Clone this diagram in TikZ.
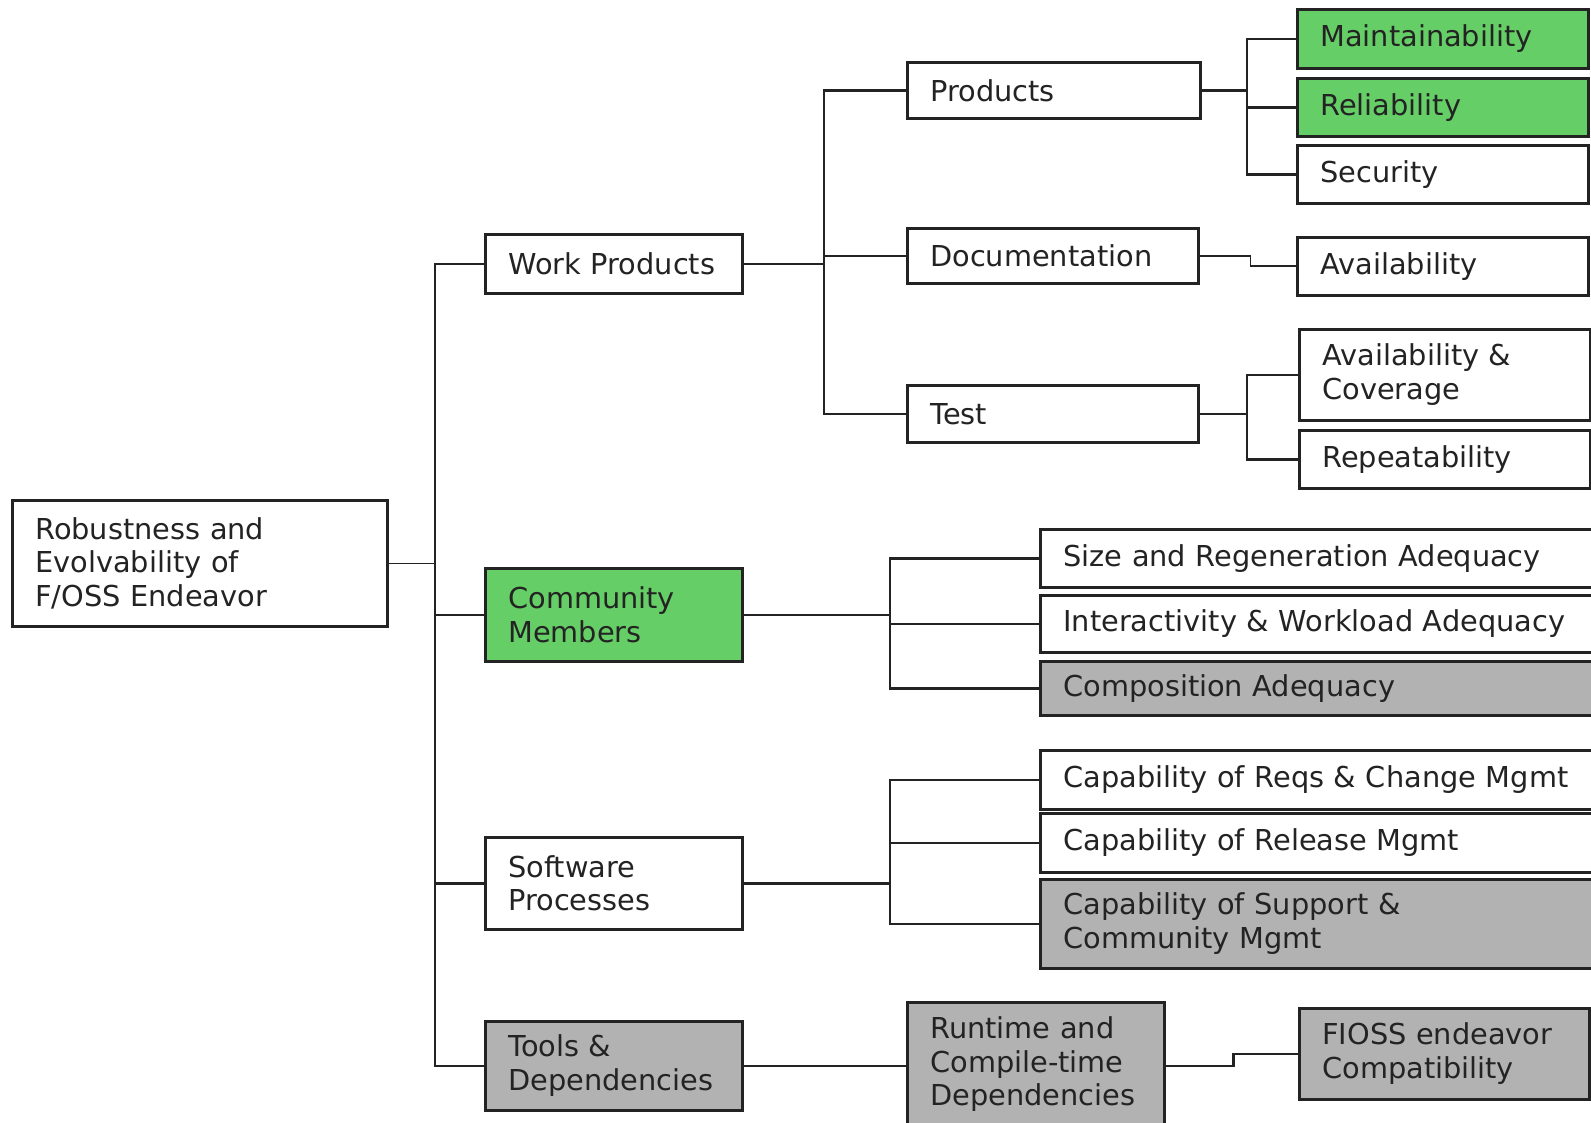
\documentclass[tikz,border=0pt]{standalone}
\usepackage{fontspec}
\setmainfont{DejaVu Sans}
\definecolor{boxgreen}{RGB}{102,206,102}
\definecolor{boxgray}{RGB}{178,178,178}
\definecolor{ink}{RGB}{35,35,35}
\begin{document}
\begin{tikzpicture}[x=0.5pt,y=-0.5pt,
  bx/.style={draw=ink, line width=1.3pt, fill=white, anchor=north west,
    inner xsep=11.5pt, inner ysep=2pt, align=left, text=ink,
    font=\fontsize{14.4pt}{16.8pt}\selectfont},
  green/.style={fill=boxgreen},
  grey/.style={fill=boxgray},
  conn/.style={draw=ink, line width=1.25pt},
  thinc/.style={draw=ink, line width=0.8pt}]
\useasboundingbox (0,0) rectangle (1591,1123);
\clip (0,0) rectangle (1591,1123);
\fill[white] (0,0) rectangle (1591,1123);
% level 0
\node[bx, text width=164.5pt, minimum height=63pt] (root) at (11,499) {Robustness and\\Evolvability of\\F/OSS Endeavor};
% level 1
\node[bx, text width=105.5pt, minimum height=29.5pt] (wp) at (484,233) {Work Products};
\node[bx, green, text width=105.5pt, minimum height=46.5pt] (cm) at (484,567) {Community\\Members};
\node[bx, text width=105.5pt, minimum height=46pt] (sp) at (484,836) {Software\\Processes};
\node[bx, grey, text width=105.5pt, minimum height=44.5pt] (td) at (484,1020) {Tools \&\\Dependencies};
% level 2 (work products)
\node[bx, text width=123.5pt, minimum height=28pt] (prod) at (906,61) {Products};
\node[bx, text width=122.5pt, minimum height=27.5pt] (doc) at (906,227) {Documentation};
\node[bx, text width=122.5pt, minimum height=28.5pt] (test) at (906,384) {Test};
% level 3
\node[bx, green, text width=122.5pt, minimum height=29.5pt] (maint) at (1296,8) {Maintainability};
\node[bx, green, text width=122.5pt, minimum height=29pt] (rel) at (1296,77) {Reliability};
\node[bx, text width=122.5pt, minimum height=29pt] (sec) at (1296,144) {Security};
\node[bx, text width=122.5pt, minimum height=29pt] (avail) at (1296,236) {Availability};
\node[bx, text width=122.5pt, minimum height=45.5pt] (avcov) at (1298,328) {Availability \&\\Coverage};
\node[bx, text width=122.5pt, minimum height=29pt] (rep) at (1298,429) {Repeatability};
% community members children
\node[bx, text width=287pt, minimum height=29pt] (size) at (1039,528) {Size and Regeneration Adequacy};
\node[bx, text width=287pt, minimum height=28.5pt] (inter) at (1039,594) {Interactivity \& Workload Adequacy};
\node[bx, grey, text width=287pt, minimum height=27pt] (comp) at (1039,660) {Composition Adequacy};
% software processes children
\node[bx, text width=287pt, minimum height=29.5pt] (reqs) at (1039,749) {Capability of Reqs \& Change Mgmt};
\node[bx, text width=287pt, minimum height=29.5pt] (relm) at (1039,812) {Capability of Release Mgmt};
\node[bx, grey, text width=287pt, minimum height=44.5pt] (supp) at (1039,878) {Capability of Support \&\\Community Mgmt};
% tools children
\node[bx, grey, text width=105.5pt, minimum height=62pt] (runtime) at (906,1001) {Runtime and\\Compile-time\\Dependencies};
\node[bx, grey, text width=122pt, minimum height=45.5pt] (fioss) at (1298,1007) {FIOSS endeavor\\Compatibility};
% spine coordinates
\coordinate (s1) at (435,0);
\coordinate (s2) at (824,0);
\coordinate (s3) at (1247,0);
\coordinate (s4) at (890,0);
% connectors level 0-1
\draw[thinc] (root.east) -- (root.east -| s1);
\draw[conn] (wp.west) -| (s1 |- td.west) -- (td.west);
\draw[thinc] (cm.west) -- (cm.west -| s1);
\draw[conn] (sp.west) -- (sp.west -| s1);
% work products
\draw[conn] (wp.east) -- (wp.east -| s2);
\draw[conn] (prod.west) -| (s2 |- test.west) -- (test.west);
\draw[thinc] (doc.west) -- (doc.west -| s2);
% products
\draw[conn] (prod.east) -- (prod.east -| s3);
\draw[conn] (maint.west) -| (s3 |- sec.west) -- (sec.west);
\draw[conn] (rel.west) -- (rel.west -| s3);
% documentation
\draw[thinc] (doc.east) -- ++(51,0) |- (avail.west);
% test
\draw[conn] (test.east) -- (test.east -| s3);
\draw[conn] (avcov.west) -| (s3 |- rep.west) -- (rep.west);
% community members
\draw[thinc] (cm.east) -- (cm.east -| s4);
\draw[conn] (size.west) -| (s4 |- comp.west) -- (comp.west);
\draw[conn] (inter.west) -- (inter.west -| s4);
% software processes
\draw[conn] (sp.east) -- (sp.east -| s4);
\draw[conn] (reqs.west) -| (s4 |- supp.west) -- (supp.west);
\draw[conn] (relm.west) -- (relm.west -| s4);
% tools
\draw[conn] (td.east) -- (td.east -| runtime.west);
\draw[conn] (td.east -| runtime.east) -- ++(68,0) |- (fioss.west);
\end{tikzpicture}
\end{document}
